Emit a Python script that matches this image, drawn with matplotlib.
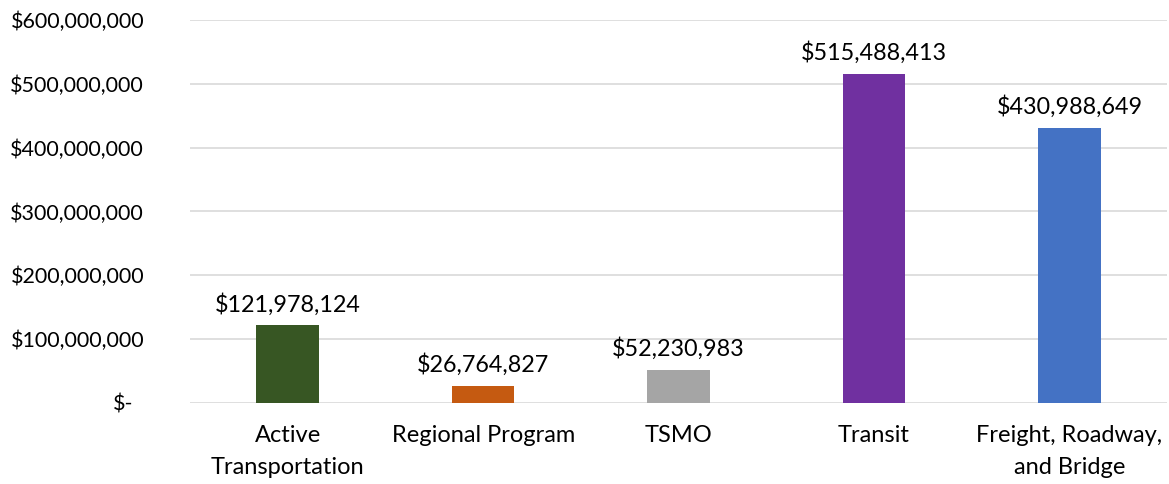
import matplotlib
matplotlib.use("Agg")
import matplotlib.pyplot as plt
import matplotlib.transforms as mtransforms

categories = ["Active\nTransportation", "Regional Program", "TSMO", "Transit", "Freight, Roadway,\nand Bridge"]
values = [121978124, 26764827, 52230983, 515488413, 430988649]
colors = ["#375623", "#C55A11", "#A5A5A5", "#7030A0", "#4472C4"]
yticks = [0, 100000000, 200000000, 300000000, 400000000, 500000000, 600000000]
ytick_labels = ["$-", "$100,000,000", "$200,000,000", "$300,000,000", "$400,000,000", "$500,000,000", "$600,000,000"]

plt.rcParams['font.family'] = ['Lato', 'DejaVu Sans']

fig = plt.figure(figsize=(11.69, 4.84), dpi=100)
ax = fig.add_axes([0.1625, 0.1674, 0.836, 0.7913])

x = list(range(len(categories)))
bars = ax.bar(x, values, width=0.32, color=colors, zorder=3)
for xi, v in zip(x, values):
    ax.annotate(f"${v:,}", (xi, v), xytext=(0, 7), textcoords="offset points",
                ha="center", va="bottom", fontsize=16.8, color="#000000")

ax.set_xlim(-0.5, len(categories) - 0.5)
ax.set_ylim(0, 600000000)
ax.set_yticks(yticks)
ax.set_yticklabels(ytick_labels, fontsize=15.5)
ax.set_xticks(x)
ax.set_xticklabels(categories, fontsize=17, linespacing=1.65)
ax.tick_params(axis="both", length=0)
ax.tick_params(axis="y", pad=33)
ax.tick_params(axis="x", pad=16)
lbl0 = ax.get_yticklabels()[0]
lbl0.set_transform(lbl0.get_transform() + mtransforms.ScaledTranslation(-11/100, 0, fig.dpi_scale_trans))

ax.grid(axis="y", color="#D9D9D9", linewidth=1.2, zorder=0)
for s in ax.spines.values():
    s.set_visible(False)

fig.savefig("out.png", dpi=100)
